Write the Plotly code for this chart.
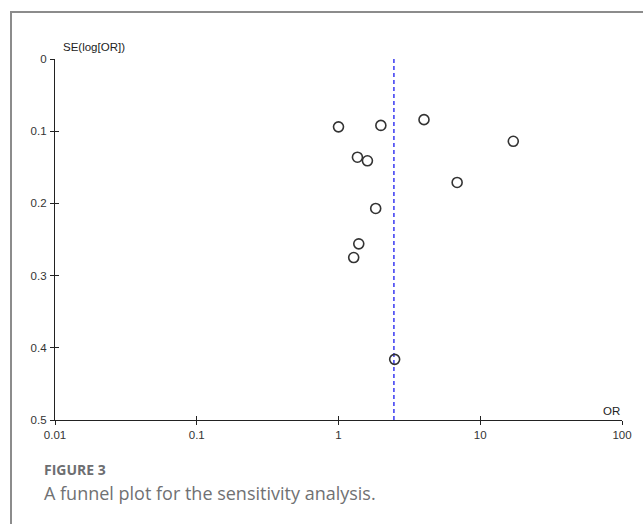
import plotly.graph_objects as go

# Data: odds ratios and standard errors of log(OR)
odds_ratio = [1.00, 1.99, 4.01, 17.1, 1.36, 1.60, 6.87, 1.83, 1.39, 1.28, 2.49]
se_log_or = [0.094, 0.092, 0.084, 0.114, 0.136, 0.141, 0.171, 0.207, 0.256, 0.275, 0.416]
pooled_or = 2.46
x_tickvals = [0.01, 0.1, 1, 10, 100]
x_ticktext = ["0.01", "0.1", "1", "10", "100"]
y_tickvals = [0, 0.1, 0.2, 0.3, 0.4, 0.5]
y_ticktext = ["0", "0.1", "0.2", "0.3", "0.4", "0.5"]

W, H = 643, 524
L, R, T, B = 55, 21, 59, 104
PW, PH = W - L - R, H - T - B


def px_x(px):
    return (px - L) / PW


def px_y(py):
    return (H - B - py) / PH


AX_COLOR = "#222222"
TICK_FONT = dict(family="Liberation Sans, Arial, sans-serif", size=11.5, color="#333333")

fig = go.Figure()

fig.add_trace(go.Scatter(
    x=[pooled_or, pooled_or], y=[0, 0.5], mode="lines",
    line=dict(color="#2a2af0", width=1.4, dash="4px,3px"),
    showlegend=False, hoverinfo="skip"))

fig.add_trace(go.Scatter(
    x=odds_ratio, y=se_log_or, mode="markers",
    marker=dict(symbol="circle-open", size=10, color="#333333",
                line=dict(width=1.6, color="#333333")),
    showlegend=False))

# invisible trace to anchor overlay axes (for crossing ticks)
fig.add_trace(go.Scatter(x=[None], y=[None], xaxis="x2", yaxis="y2",
                         showlegend=False, hoverinfo="skip"))

common_x = dict(type="log", range=[-2, 2], tickvals=x_tickvals, showgrid=False,
                zeroline=False, linecolor=AX_COLOR, tickcolor=AX_COLOR, ticklen=4,
                tickwidth=1)
common_y = dict(range=[0.5, 0], tickvals=y_tickvals, showgrid=False,
                zeroline=False, linecolor=AX_COLOR, tickcolor=AX_COLOR, ticklen=4,
                tickwidth=1)

fig.update_layout(
    width=W, height=H,
    margin=dict(l=L, r=R, t=T, b=B, pad=0),
    paper_bgcolor="white", plot_bgcolor="white",
    xaxis=dict(**common_x, ticktext=x_ticktext, ticks="outside", showline=True,
               linewidth=1.3, tickfont=TICK_FONT, ticklabelstandoff=0),
    yaxis=dict(**common_y, ticktext=y_ticktext, ticks="outside", showline=True,
               linewidth=1.3, tickfont=TICK_FONT, ticklabelstandoff=1),
    xaxis2=dict(**common_x, overlaying="x", anchor="y2", side="bottom", ticks="inside",
                showline=False, showticklabels=False),
    yaxis2=dict(**common_y, overlaying="y", anchor="x2", side="left", ticks="inside",
                showline=False, showticklabels=False),
    shapes=[
        dict(type="line", xref="paper", yref="paper", x0=px_x(11), x1=px_x(11),
             y0=px_y(11), y1=px_y(530), line=dict(color="#8c8c8c", width=2)),
        dict(type="line", xref="paper", yref="paper", x0=px_x(10), x1=px_x(650),
             y0=px_y(12), y1=px_y(12), line=dict(color="#8c8c8c", width=2)),
    ],
    annotations=[
        dict(text="SE(log[OR])", xref="paper", yref="paper", x=px_x(61), y=px_y(47),
             xanchor="left", yanchor="middle", showarrow=False,
             font=dict(family="Liberation Sans, Arial, sans-serif", size=11.5, color="#222222")),
        dict(text="OR", xref="paper", yref="paper", x=px_x(622), y=px_y(411),
             xanchor="right", yanchor="middle", showarrow=False,
             font=dict(family="Liberation Sans, Arial, sans-serif", size=11.5, color="#222222")),
        dict(text="<b>FIGURE 3</b>", xref="paper", yref="paper", x=px_x(42), y=px_y(469),
             xanchor="left", yanchor="middle", showarrow=False,
             font=dict(family="Open Sans, sans-serif", size=14, color="#6d6e71")),
        dict(text="A funnel plot for the sensitivity analysis.", xref="paper", yref="paper",
             x=px_x(42), y=px_y(493), xanchor="left", yanchor="middle", showarrow=False,
             font=dict(family="Open Sans, sans-serif", size=18, color="#707173")),
    ],
)

fig.write_html("out.html")
